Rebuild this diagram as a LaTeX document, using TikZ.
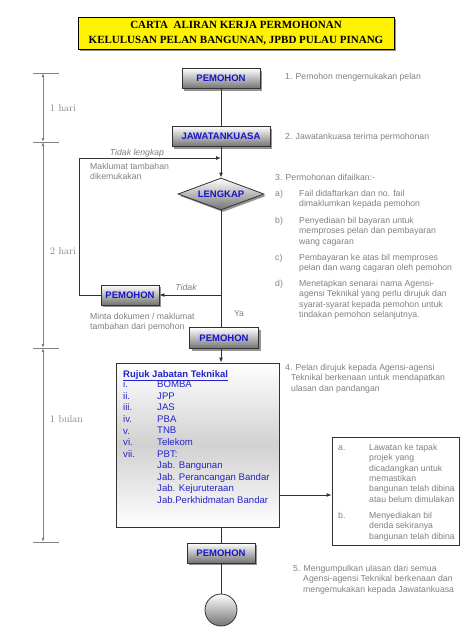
\documentclass[tikz,border=0pt]{standalone}
\usepackage{fontspec}
\setsansfont{Liberation Sans}
\newfontfamily\titlefont{Liberation Serif}
\usetikzlibrary{shapes.geometric,shadows,arrows.meta,calc}
\definecolor{boxblue}{RGB}{20,20,200}
\definecolor{listblue}{RGB}{35,35,205}
\definecolor{txtgray}{RGB}{128,128,128}
\definecolor{linedark}{RGB}{50,50,50}
\begin{document}
\begin{tikzpicture}[x=1pt,y=-1pt,
  shad/.style={drop shadow={shadow xshift=2pt,shadow yshift=-2pt,fill=black!70,opacity=0.6}},
  pbox/.style={draw=linedark, line width=0.8pt, top color=white, bottom color=black!55, shad,
    font=\sffamily\bfseries\fontsize{9.5}{11}\selectfont, text=boxblue, inner sep=0pt, minimum height=20pt},
  dmd/.style={shape=diamond, aspect=2.7, draw=linedark, line width=0.8pt, top color=white, bottom color=black!55, shad,
    font=\sffamily\bfseries\fontsize{9.5}{11}\selectfont, text=boxblue, inner sep=0pt, minimum width=86pt, minimum height=32pt},
  titlebox/.style={draw=black, line width=0.8pt, fill=yellow, shad, align=center, inner sep=0pt,
    minimum width=316pt, minimum height=32pt, font=\titlefont\bfseries\fontsize{11}{15}\selectfont},
  note/.style={font=\sffamily\fontsize{8.7}{10.4}\selectfont, text=txtgray, inner sep=0pt, align=left},
  inote/.style={font=\sffamily\itshape\fontsize{8.7}{10.4}\selectfont, text=txtgray, inner sep=0pt},
  blist/.style={font=\sffamily\fontsize{9.6}{11.6}\selectfont, text=listblue, inner sep=0pt, align=left},
  conn/.style={draw=linedark, line width=0.9pt},
  arr/.style={conn, -{Latex[length=5pt,width=4pt]}},
  dim/.style={draw=txtgray, line width=0.8pt},
  dimarr/.style={dim, {Latex[length=4pt,width=3pt]}-{Latex[length=4pt,width=3pt]}},
  dimlbl/.style={font=\fontsize{10}{12}\selectfont, text=txtgray, inner sep=0pt, anchor=base west}
]
\useasboundingbox (0,0) rectangle (474,632);

% title
\node[titlebox] (title) at (236,33) {CARTA\ \ ALIRAN KERJA PERMOHONAN\\KELULUSAN PELAN BANGUNAN, JPBD PULAU PINANG};

% dimension lines
\coordinate (d1) at (43,73);
\coordinate (d2) at (43,142);
\coordinate (d3) at (43,348);
\coordinate (d4) at (43,542);
\foreach \d in {d1,d2,d3,d4} \draw[dim] ($(\d)+(-10,0)$) -- ++(26,0);
\draw[dimarr] (d1) -- (d2);
\draw[dimarr] (d2) -- (d3);
\draw[dimarr] (d3) -- (d4);
\node[dimlbl] (l1) at (50,111.5) {1 hari};
\node[dimlbl] (l2) at (50,254) {2 hari};
\node[dimlbl] (l3) at (50,422) {1 bulan};

% flow nodes
\node[pbox, minimum width=78pt] (p1) at (221,78.5) {PEMOHON};
\node[pbox, minimum width=98pt] (jk) at (221,136.5) {JAWATANKUASA};
\node[dmd] (lk) at (221,194) {LENGKAP};
\node[pbox, minimum width=58pt] (p2) at (130,295) {PEMOHON};
\node[pbox, minimum width=69pt, minimum height=21pt] (p3) at (224,338) {PEMOHON};
\node[draw=linedark, line width=0.8pt, top color=white, bottom color=white, middle color=black!18,
  minimum width=163pt, minimum height=164pt, inner sep=0pt] (big) at (197.5,445) {};
\node[draw=linedark, line width=0.8pt, fill=white, minimum width=127pt, minimum height=108pt, inner sep=0pt] (rbox) at (395.5,491) {};
\node[pbox, minimum width=68pt] (p4) at (221,553) {PEMOHON};
\node[circle, draw=linedark, line width=0.8pt, top color=white, bottom color=black!55, minimum size=32pt, inner sep=0pt] (endc) at (221,610) {};

% connectors
\coordinate (fb) at (221,158);
\coordinate (fbl) at (79,158);
\coordinate (tj) at (221,295);
\coordinate (ry) at (300,495);
\draw[conn] (p1) -- (jk);
\draw[arr] (jk) -- (lk);
\draw[arr] (p2.west) -| (fbl) -- (fb);
\draw[conn] (lk.south) -- (lk.south |- p3.north);
\draw[arr] (tj) -- (p2.east);
\draw[arr] (lk.south |- p3.south) -- (lk.south |- big.north);
\draw[arr] (big.east |- ry) -- (rbox.west |- ry);
\draw[conn] (p4.north |- big.south) -- (p4.north);
\draw[conn] (p4) -- (endc);

% connector labels
\node[inote, anchor=base] (tl) at (137,155) {Tidak lengkap};
\node[inote, anchor=base] (td) at (186,290) {Tidak};
\node[note, anchor=base] (ya) at (239,316) {Ya};
\node[note, anchor=north west] (mk) at (90,162.7) {Maklumat tambahan\\dikemukakan};
\node[note, anchor=north west] (mt) at (90,312.7) {Minta dokumen / maklumat\\tambahan dari pemohon};

% right-hand notes
\node[note, anchor=base west] (n1) at (285,79) {1. Pemohon mengemukakan pelan};
\node[note, anchor=base west] (n2) at (285,139) {2. Jawatankuasa terima permohonan};
\node[note, anchor=base west] (n3) at (275,180) {3. Permohonan difailkan:-};
\node[note, anchor=base west] (n3a) at (275,196) {a)};
\node[note, anchor=north west] (t3a) at (299,189.7) {Fail didaftarkan dan no. fail\\dimaklumkan kepada pemohon};
\node[note, anchor=base west] (n3b) at (275,223) {b)};
\node[note, anchor=north west] (t3b) at (299,216.7) {Penyediaan bil bayaran untuk\\memproses pelan dan pembayaran\\wang cagaran};
\node[note, anchor=base west] (n3c) at (275,260) {c)};
\node[note, anchor=north west] (t3c) at (299,253.7) {Pembayaran ke atas bil memproses\\pelan dan wang cagaran oleh pemohon};
\node[note, anchor=base west] (n3d) at (275,286) {d)};
\node[note, anchor=north west] (t3d) at (299,279.7) {Menetapkan senarai nama Agensi-\\agensi Teknikal yang perlu dirujuk dan\\syarat-syarat kepada pemohon untuk\\tindakan pemohon selanjutnya.};
\node[note, anchor=north west] (n4) at (285,363.7) {4. Pelan dirujuk kepada Agensi-agensi\\\hspace*{6pt}Teknikal berkenaan untuk mendapatkan\\\hspace*{6pt}ulasan dan pandangan};
\node[note, anchor=north west] (n5) at (293,564.7) {5. Mengumpulkan ulasan dari semua\\\hspace*{10pt}Agensi-agensi Teknikal berkenaan dan\\\hspace*{10pt}mengemukakan kepada Jawatankuasa};

% right box content
\node[note, anchor=base west] (ra) at (338,450) {a.};
\node[note, anchor=north west] (rta) at (369,443.7) {Lawatan ke tapak\\projek yang\\dicadangkan untuk\\memastikan\\bangunan telah dibina\\atau belum dimulakan};
\node[note, anchor=base west] (rb) at (338,518) {b.};
\node[note, anchor=north west] (rtb) at (369,511.7) {Menyediakan bil\\denda sekiranya\\bangunan telah dibina};

% big box content
\node[anchor=base west, font=\sffamily\bfseries\fontsize{9.5}{11}\selectfont, text=listblue, inner sep=0pt] (rjt) at (123,377) {\underline{Rujuk Jabatan Teknikal}};
\node[blist, anchor=north west] (rn) at (123,380.5) {i.\\ii.\\iii.\\iv.\\v.\\vi.\\vii.};
\node[blist, anchor=north west] (ri) at (157,380.5) {BOMBA\\JPP\\JAS\\PBA\\TNB\\Telekom\\PBT:\\Jab. Bangunan\\Jab. Perancangan Bandar\\Jab. Kejuruteraan\\Jab.Perkhidmatan Bandar};
\end{tikzpicture}
\end{document}
